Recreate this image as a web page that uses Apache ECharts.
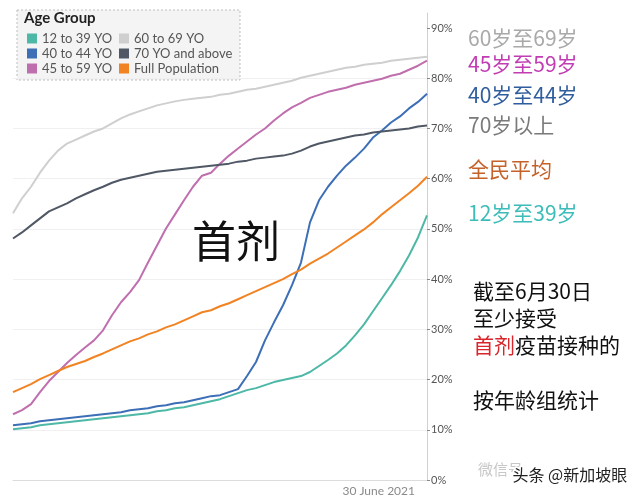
<!DOCTYPE html>
<html><head><meta charset="utf-8">
<script src="https://cdn.jsdelivr.net/npm/echarts@6/dist/echarts.min.js"></script>
<style>html,body{margin:0;padding:0;background:#fff}#c{width:640px;height:500px}</style>
</head><body><div id="c"></div>
<script>
// Categories: daily, 15 May 2021 to 30 June 2021
const dates = [];
for (let d = 15; d <= 31; d++) dates.push(d + ' May 2021');
for (let d = 1; d <= 30; d++) dates.push(d + ' June 2021');

const names = ['12 to 39 YO','40 to 44 YO','45 to 59 YO','60 to 69 YO','70 YO and above','Full Population'];
const colors = ['#4db8a6','#3c6fb6','#c06fae','#cfcfcf','#4f5864','#f28322'];

const s12to39 = [10.1,10.3,10.5,10.9,11.1,11.3,11.5,11.7,11.9,12.1,12.3,12.5,12.7,12.9,13.1,13.3,13.7,13.9,14.3,14.5,14.9,15.3,15.7,16.1,16.7,17.3,17.9,18.3,18.9,19.5,19.9,20.3,20.7,21.5,22.7,23.9,25.2,26.8,28.8,31.0,33.6,36.2,38.8,41.6,44.7,48.3,52.7];
const s40to44 = [10.9,11.1,11.3,11.7,11.9,12.1,12.3,12.5,12.7,12.9,13.1,13.3,13.5,13.9,14.1,14.3,14.7,14.9,15.3,15.5,15.9,16.3,16.7,16.9,17.5,18.1,20.7,23.5,27.8,31.4,34.8,38.8,43.3,51.3,55.7,58.4,60.6,62.6,64.2,66.0,68.2,69.6,71.2,72.4,74.0,75.3,76.9];
const s45to59 = [13.1,13.9,15.1,17.5,19.7,21.5,23.3,24.9,26.4,27.8,29.8,32.8,35.4,37.4,39.8,43.3,46.7,50.1,52.9,55.7,58.4,60.6,61.2,63.0,64.6,66.0,67.4,68.8,70.0,71.6,73.0,74.2,75.1,76.1,76.7,77.3,77.7,78.1,78.7,79.1,79.5,79.9,80.5,80.9,81.7,82.5,83.5];
const s60to69 = [53.1,56.1,58.4,61.2,63.6,65.6,67.0,67.8,68.6,69.4,70.0,71.0,72.0,72.8,73.4,74.0,74.6,75.0,75.4,75.7,75.9,76.1,76.3,76.7,76.9,77.3,77.7,77.9,78.3,78.7,79.1,79.5,80.1,80.5,80.9,81.3,81.7,82.1,82.3,82.7,82.9,83.1,83.5,83.7,83.9,84.1,84.3];
const s70plus = [48.1,49.3,50.7,52.1,53.5,54.3,55.1,56.1,56.9,57.7,58.4,59.2,59.8,60.2,60.6,61.0,61.4,61.6,61.8,62.0,62.2,62.4,62.6,62.8,63.0,63.4,63.6,64.0,64.2,64.4,64.6,65.0,65.6,66.4,67.0,67.4,67.8,68.2,68.6,68.8,69.2,69.4,69.6,69.8,70.0,70.4,70.6];
const sFull = [17.5,18.3,19.1,20.1,20.9,21.7,22.5,23.1,23.7,24.5,25.2,26.0,26.8,27.6,28.2,29.0,29.6,30.4,31.0,31.8,32.6,33.4,33.8,34.6,35.2,36.0,36.8,37.6,38.4,39.2,40.0,41.0,41.9,43.1,44.1,45.1,46.3,47.5,48.7,49.9,51.3,52.9,54.3,55.7,57.1,58.6,60.4];
const seriesData = [s12to39, s40to44, s45to59, s60to69, s70plus, sFull];

const yTicks = [0,10,20,30,40,50,60,70,80,90];
const xLabel = '30 June 2021';

const rightLabels = [
  {t:'60岁至69岁', c:'#a9a9a9', y:41},
  {t:'45岁至59岁', c:'#c23cb4', y:67},
  {t:'40岁至44岁', c:'#2f5d9e', y:98},
  {t:'70岁以上', c:'#7a7a7a', y:128},
  {t:'全民平均', c:'#c4622a', y:172},
  {t:'12岁至39岁', c:'#3cbdb9', y:216}
];

const chart = echarts.init(document.getElementById('c'), null, {renderer:'canvas'});
const legendCommon = {
  orient:'vertical', icon:'rect', itemWidth:10, itemHeight:10, itemGap:2,
  textStyle:{fontSize:13, color:'#555', fontFamily:'Lato'}, selectedMode:false
};
const cjk = '"Noto Sans CJK SC"';
const graphic = [
  {type:'rect', shape:{x:17,y:10,width:223,height:70}, style:{fill:'#f4f4f4', stroke:'#bdbdbd', lineDash:[2,2], lineWidth:1}, z:0},
  {type:'text', left:24, top:11, style:{text:'Age Group', font:'bold 15px Lato', fill:'#222'}, z:10},
  {type:'text', left:192, top:219, style:{text:'首剂', font:'44px ' + cjk, fill:'#111'}, z:10},
  {type:'text', left:473, top:281, style:{text:'截至6月30日', font:'21px ' + cjk, fill:'#111'}, z:10},
  {type:'text', left:473, top:308, style:{text:'至少接受', font:'21px ' + cjk, fill:'#111'}, z:10},
  {type:'text', left:473, top:335, style:{text:'{r|首剂}疫苗接种的', font:'21px ' + cjk, fill:'#111', rich:{r:{fill:'#d8262b', font:'21px ' + cjk}}}, z:10},
  {type:'text', left:473, top:390, style:{text:'按年龄组统计', font:'21px ' + cjk, fill:'#111'}, z:10},
  {type:'text', left:478, top:462, style:{text:'微信号', font:'15px ' + cjk, fill:'#c8c8c8'}, z:10},
  {type:'text', left:511, top:465, style:{text:'头条 @新加坡眼', font:'16px ' + cjk, fill:'#222', stroke:'#fff', lineWidth:3}, z:11}
];
rightLabels.forEach(l => graphic.push({type:'text', left:468, top:l.y-13, style:{text:l.t, font:'21px ' + cjk, fill:l.c}, z:10}));

chart.setOption({
  backgroundColor:'#fff',
  animation:false,
  color:colors,
  grid:{left:13, right:213, top:13, bottom:20},
  legend:[
    Object.assign({left:22, top:27, data:names.slice(0,3)}, legendCommon),
    Object.assign({left:114, top:27, data:names.slice(3)}, legendCommon)
  ],
  xAxis:{
    type:'category', data:dates, boundaryGap:false,
    axisLine:{lineStyle:{color:'#dcdcdc'}},
    axisTick:{show:false},
    axisLabel:{
      interval:(i)=> i===dates.length-1,
      formatter:()=>xLabel,
      align:'right', padding:[0,12,0,0], margin:5,
      color:'#8a8a8a', fontSize:12, fontFamily:'Lato'
    },
    splitLine:{show:false}
  },
  yAxis:{
    type:'value', position:'right', min:0, max:93, interval:10,
    axisLine:{show:true, lineStyle:{color:'#d0d0d0'}},
    axisTick:{show:true, length:3, lineStyle:{color:'#888'}, customValues:yTicks},
    axisLabel:{customValues:yTicks, formatter:'{value}%', color:'#555', fontSize:11, margin:4, fontFamily:'Lato'},
    splitLine:{show:true, lineStyle:{color:'#f0f0f3'}, showMaxLine:false, showMinLine:false}
  },
  series: names.map((n,i)=>({
    name:n, type:'line', data:seriesData[i], showSymbol:false, symbol:'none',
    lineStyle:{width:2, color:colors[i]}, itemStyle:{color:colors[i]}, z:2
  })),
  graphic
});
</script></body></html>
